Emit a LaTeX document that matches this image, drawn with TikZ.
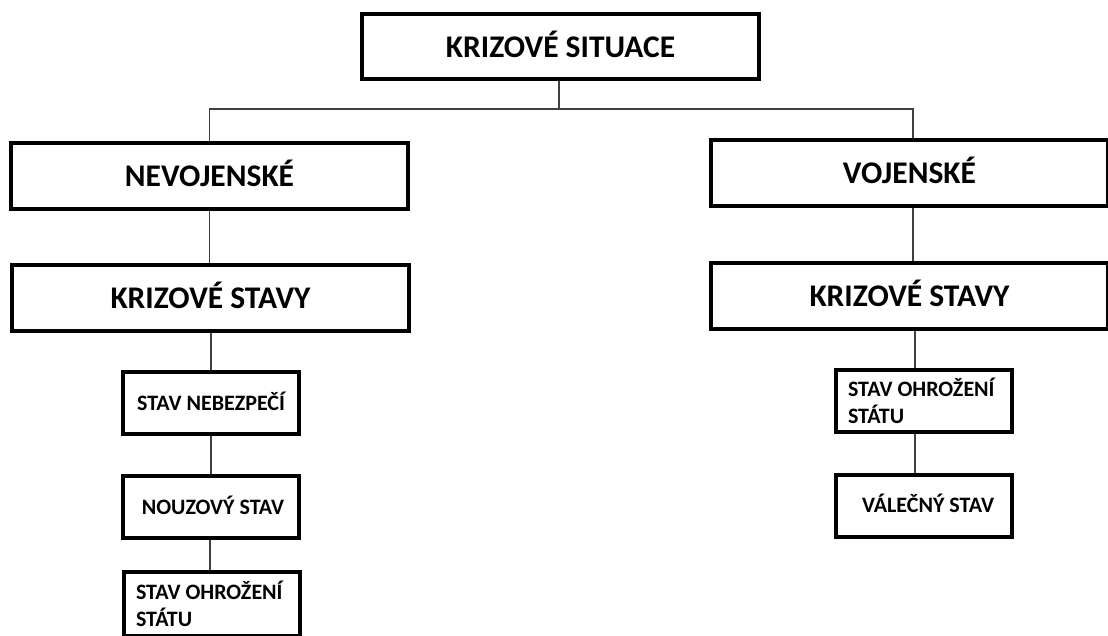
\documentclass[tikz,border=0pt]{standalone}
\usepackage{fontspec}
\setmainfont{Carlito}
\begin{document}
\begin{tikzpicture}[x=1pt,y=-1pt,
  bigbox/.style={draw=black,line width=4pt,fill=white,inner sep=0pt,minimum width=397pt,minimum height=66pt,text height=21pt,text depth=0pt,font=\fontsize{31.5}{38}\selectfont\bfseries},
  smallbox/.style={draw=black,line width=4pt,fill=white,inner sep=0pt,minimum width=176pt,minimum height=62pt,text height=14pt,text depth=0pt,font=\fontsize{22}{27}\selectfont\bfseries},
  twoline/.style={draw=black,line width=4pt,fill=white,inner xsep=12pt,inner ysep=0pt,minimum width=176pt,minimum height=62pt,align=flush left,text width=152pt,font=\fontsize{22}{27}\selectfont\bfseries},
  conn/.style={draw=black!75,line width=1.2pt}]
\useasboundingbox (0,0) rectangle (1108,635);
\fill[white] (0,0) rectangle (1108,635);
% nodes
\node[bigbox,minimum height=65pt] (top) at (560.5,46.5) {KRIZOVÉ SITUACE};
\node[bigbox] (ne) at (209.5,176) {NEVOJENSKÉ};
\node[bigbox] (vo) at (909.5,173) {VOJENSKÉ};
\node[bigbox] (ksl) at (210.5,298) {KRIZOVÉ STAVY};
\node[bigbox] (ksr) at (909.5,296) {KRIZOVÉ STAVY};
\node[smallbox] (sn) at (211,403) {STAV NEBEZPEČÍ};
\node[smallbox] (ns) at (211,507) {\hspace*{4pt}NOUZOVÝ STAV};
\node[twoline,minimum height=64pt] (sol) at (212,604) {STAV OHROŽENÍ\\STÁTU};
\node[twoline] (sor) at (924,401) {STAV OHROŽENÍ\\STÁTU};
\node[smallbox] (vs) at (924,505.5) {\hspace*{8pt}VÁLEČNÝ STAV};
\coordinate (bus) at (559,109);
% connectors
\draw[conn] ([xshift=-1.5pt]top.south) -- ([xshift=-1.5pt]top.south |- bus);
\draw[conn] (ne.north) -- (ne.north |- bus) -- ([xshift=3.5pt]vo.north |- bus) -- ([xshift=3.5pt]vo.north);
\draw[conn] (ne.south) -- (ne.south |- ksl.north);
\draw[conn] ([xshift=3.5pt]vo.south) -- ([xshift=3.5pt]vo.south |- ksr.north);
\draw[conn] ([xshift=0.5pt]ksl.south) -- ([xshift=0.5pt]ksl.south |- sn.north);
\draw[conn] (sn.south) -- (sn.south |- ns.north);
\draw[conn] ([xshift=-1pt]ns.south) -- ([xshift=-1pt]ns.south |- sol.north);
\draw[conn] ([xshift=5.5pt]ksr.south) -- ([xshift=5.5pt]ksr.south |- sor.north);
\draw[conn] ([xshift=-9pt]sor.south) -- ([xshift=-9pt]sor.south |- vs.north);
\end{tikzpicture}
\end{document}
